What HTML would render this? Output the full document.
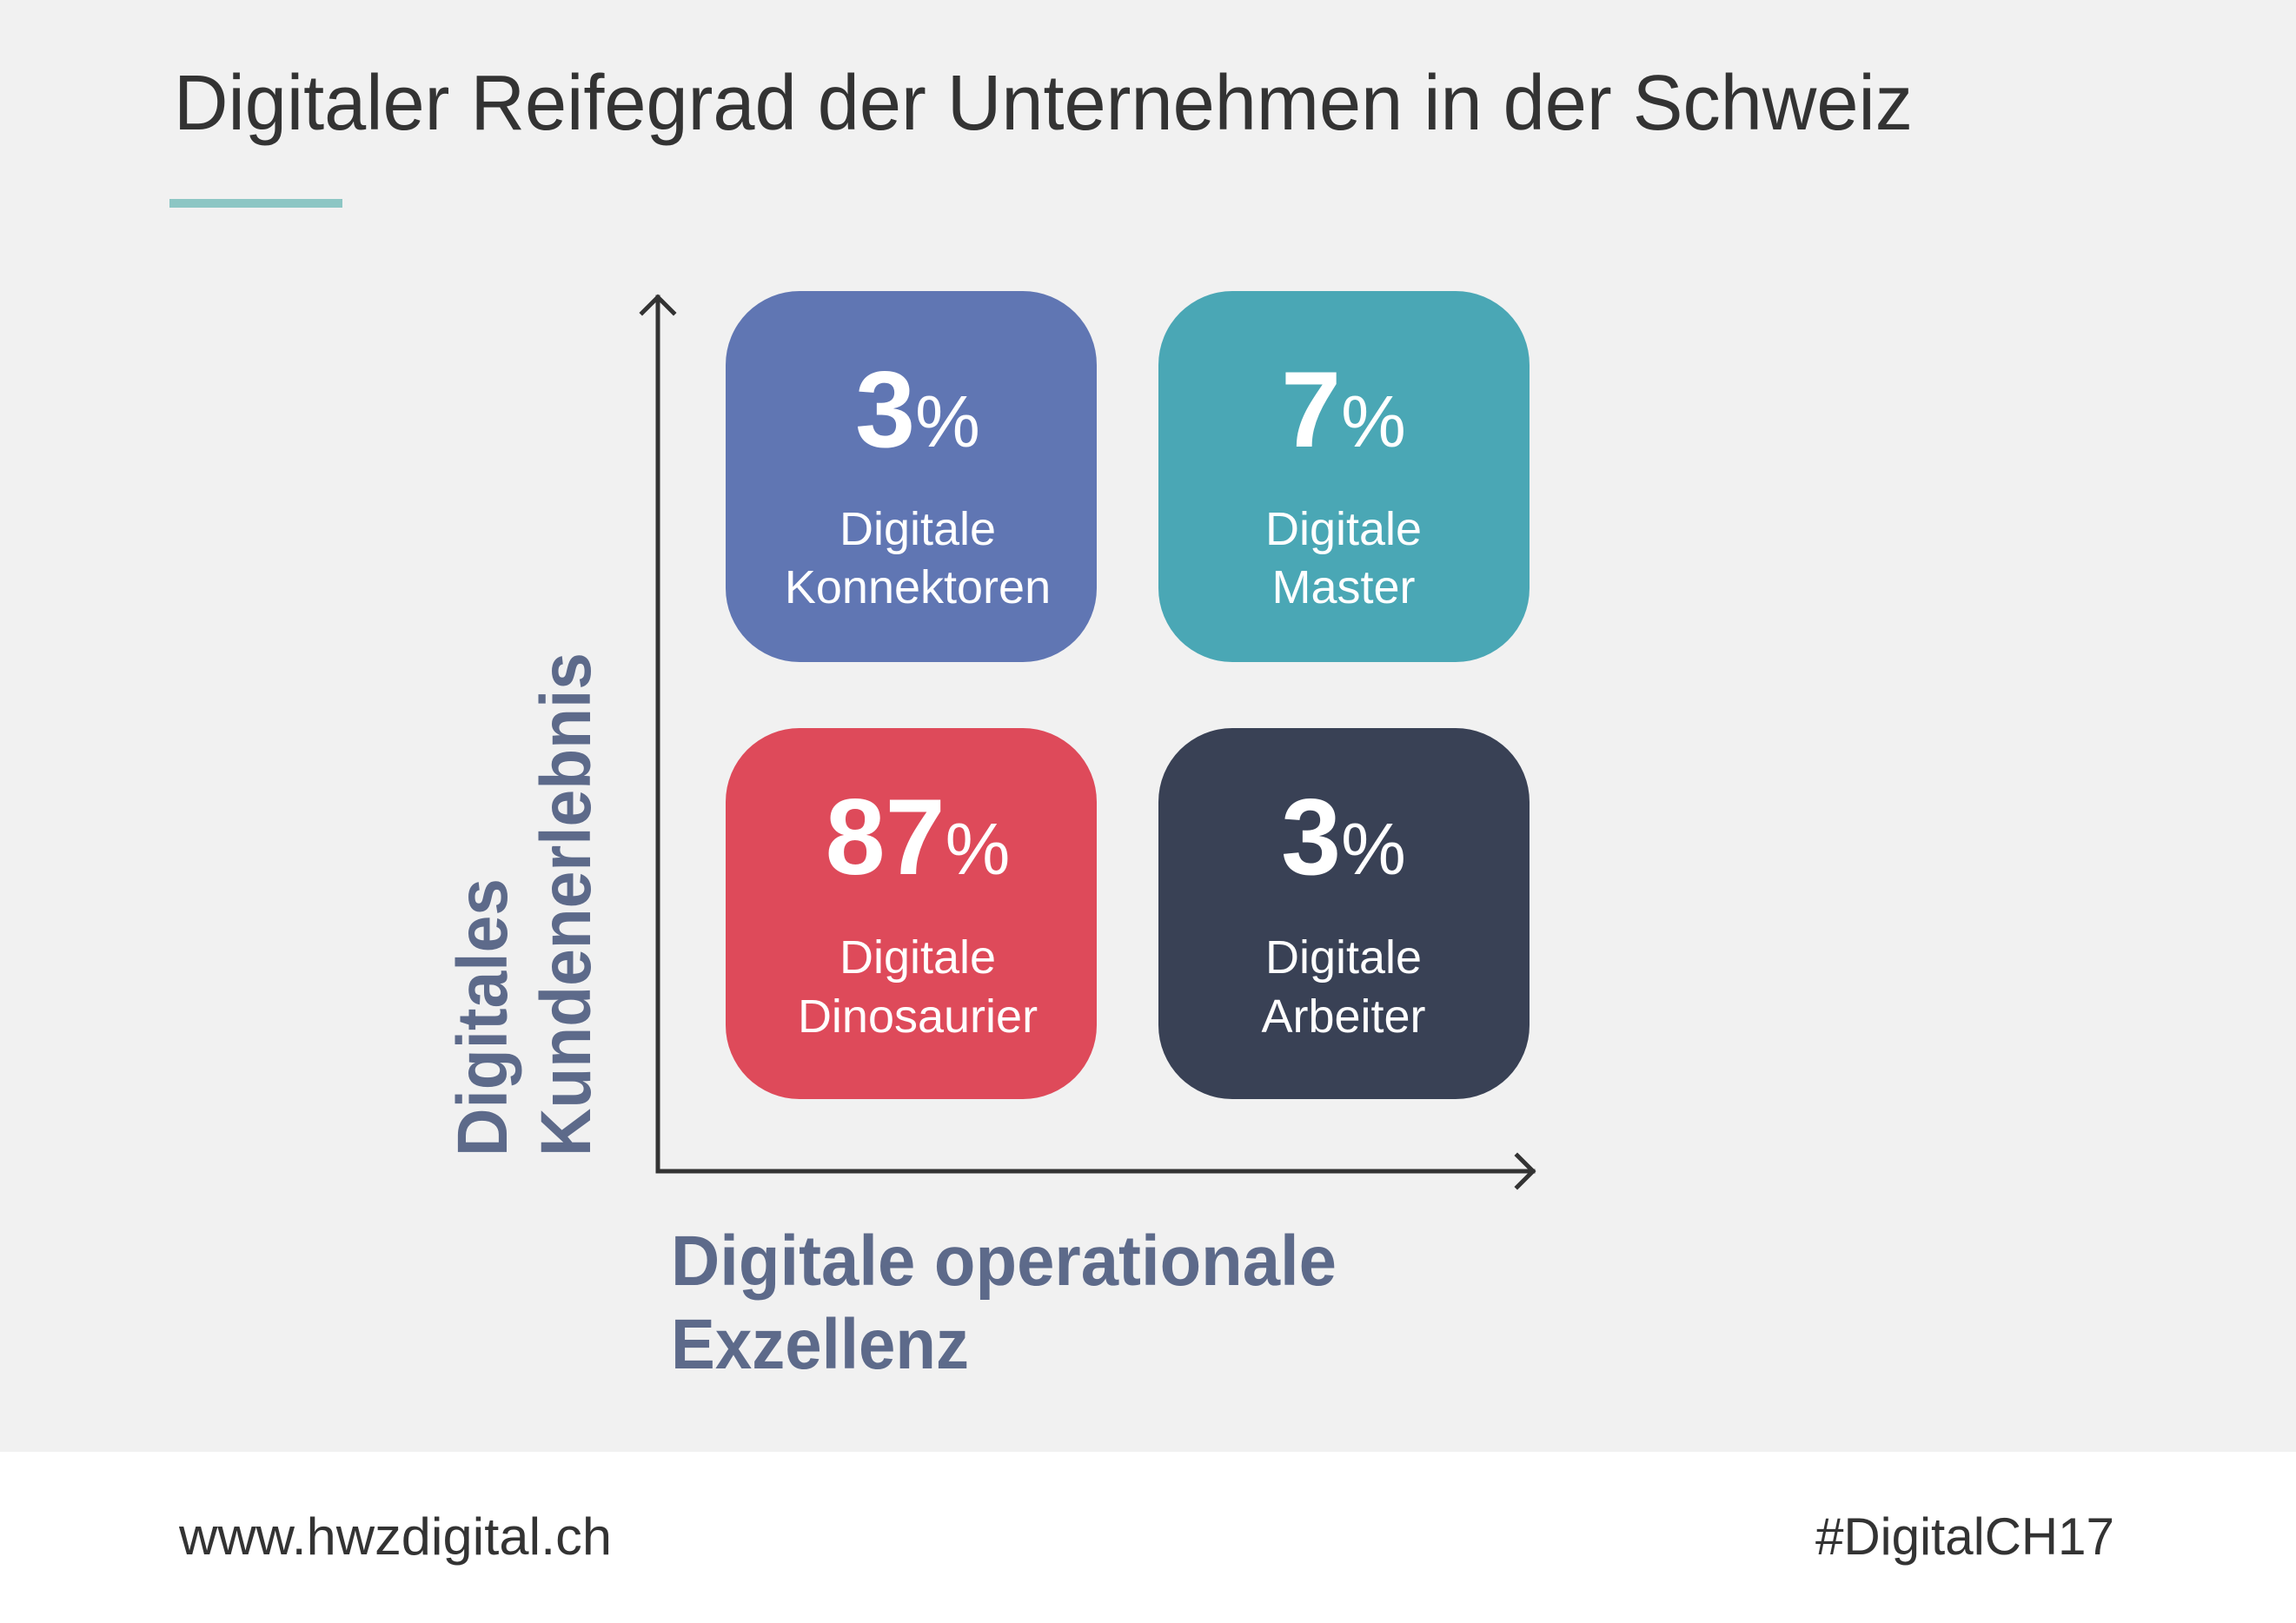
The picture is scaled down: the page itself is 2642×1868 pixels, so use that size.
<!DOCTYPE html>
<html><head><meta charset="utf-8"><style>
html,body{margin:0;padding:0;background:#f1f1f1;}
svg{display:block;}
text{font-family:"Liberation Sans",sans-serif;}
</style></head><body>
<svg width="2642" height="1868" viewBox="0 0 2642 1868" xmlns="http://www.w3.org/2000/svg">
<rect x="0" y="0" width="2642" height="1868" fill="#f1f1f1"/>
<rect x="0" y="1671" width="2642" height="197" fill="#ffffff"/>
<text x="200" y="149" font-size="90" fill="#333" textLength="2001" lengthAdjust="spacingAndGlyphs">Digitaler Reifegrad der Unternehmen in der Schweiz</text>
<rect x="195" y="229" width="199" height="10" fill="#8cc6c4"/>
<g stroke="#333" stroke-width="5" fill="none" stroke-linecap="square">
<path d="M757 342 V1348 H1764"/>
<path d="M739 360 L757 342 L775 360"/>
<path d="M1746 1330 L1764 1348 L1746 1366"/>
</g>
<rect x="835" y="335" width="427" height="427" rx="85" fill="#6076b3"/>
<rect x="1333" y="335" width="427" height="427" rx="85" fill="#4aa7b5"/>
<rect x="835" y="838" width="427" height="427" rx="85" fill="#de4a5a"/>
<rect x="1333" y="838" width="427" height="427" rx="85" fill="#394155"/>
<g fill="#fff" text-anchor="middle">
<text x="1056" y="514"><tspan font-size="124" font-weight="bold">3</tspan><tspan font-size="84">%</tspan></text>
<text x="1546" y="514"><tspan font-size="124" font-weight="bold">7</tspan><tspan font-size="84">%</tspan></text>
<text x="1056" y="1006"><tspan font-size="124" font-weight="bold">87</tspan><tspan font-size="84">%</tspan></text>
<text x="1546" y="1006"><tspan font-size="124" font-weight="bold">3</tspan><tspan font-size="84">%</tspan></text>
<g font-size="54">
<text x="1056" y="627">Digitale</text>
<text x="1056" y="694">Konnektoren</text>
<text x="1546" y="627">Digitale</text>
<text x="1546" y="694">Master</text>
<text x="1056" y="1120">Digitale</text>
<text x="1056" y="1188">Dinosaurier</text>
<text x="1546" y="1120">Digitale</text>
<text x="1546" y="1188">Arbeiter</text>
</g>
</g>
<g fill="#5d6a8a" font-weight="bold">
<text transform="translate(583 1331) rotate(-90)" font-size="82" textLength="320" lengthAdjust="spacingAndGlyphs">Digitales</text>
<text transform="translate(679 1331) rotate(-90)" font-size="82" textLength="580" lengthAdjust="spacingAndGlyphs">Kundenerlebnis</text>
<text x="772" y="1479" font-size="82" textLength="766" lengthAdjust="spacingAndGlyphs">Digitale operationale</text>
<text x="772" y="1575" font-size="82" textLength="343" lengthAdjust="spacingAndGlyphs">Exzellenz</text>
</g>
<g fill="#333" font-size="60">
<text x="206" y="1789" textLength="498" lengthAdjust="spacingAndGlyphs">www.hwzdigital.ch</text>
<text x="2089" y="1789" textLength="344" lengthAdjust="spacingAndGlyphs">#DigitalCH17</text>
</g>
</svg>
</body></html>
